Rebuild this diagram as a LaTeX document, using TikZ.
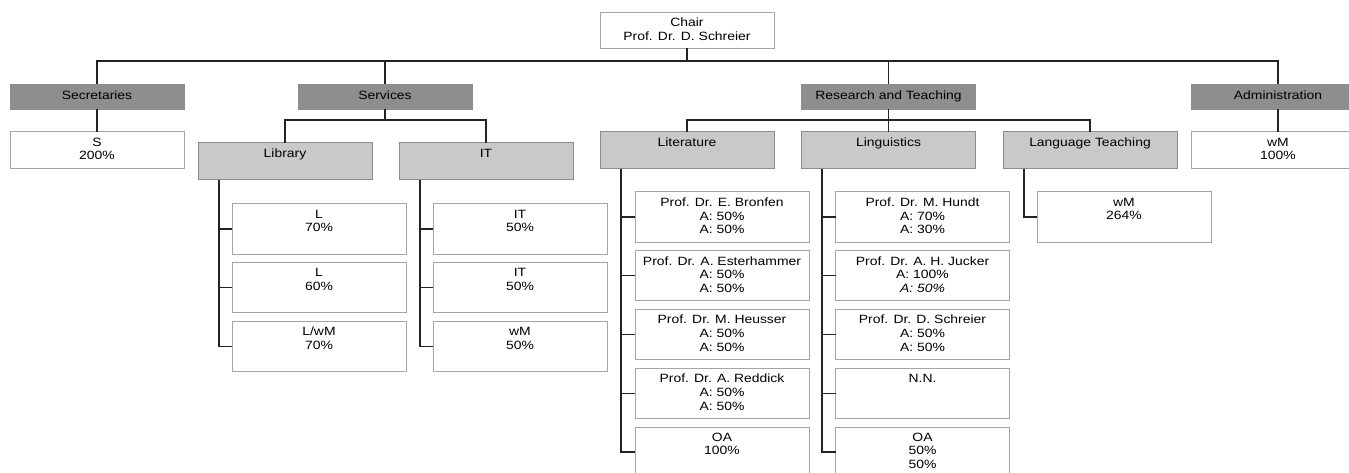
\documentclass[tikz,border=0pt]{standalone}
\usepackage{fontspec}
\setmainfont[FakeStretch=1.16]{Liberation Sans}
\definecolor{dk}{RGB}{142,142,142}
\definecolor{lg}{RGB}{201,201,201}
\definecolor{bd}{RGB}{165,165,165}
\definecolor{ln}{RGB}{35,35,35}
\begin{document}
\begin{tikzpicture}[x=1pt,y=-1pt,
  every node/.style={font=\fontsize{12}{13.7}\selectfont, text=black, inner sep=0pt, outer sep=0pt},
  dbox/.style={fill=dk, draw=dk, line width=0.8pt, minimum width=174pt, minimum height=25pt, text height=8.7pt, text depth=2.9pt},
  gbox/.style={fill=lg, draw=bd!85!black, line width=1pt, minimum width=174pt, minimum height=37pt},
  wbox/.style={fill=white, draw=bd, line width=1pt, minimum width=174pt, minimum height=50pt},
  sbox/.style={wbox, minimum height=37pt},
  txt/.style={anchor=north, align=center, yshift=-5.8pt},
  conn/.style={draw=ln, line width=1.1pt}
]
\clip (0,0) rectangle (1349,473);
\fill[white] (0,0) rectangle (1349,473);

% top
\node[sbox, minimum height=36pt] (chair) at (687,30.5) {};
\node[txt] (chairt) at (chair.north) {Chair\\Prof. Dr. D. Schreier};

% level 1
\node[dbox] (sec) at (97,96.5) {Secretaries};
\node[dbox] (serv) at (385,96.5) {Services};
\node[dbox] (rt) at (888.5,96.5) {Research and Teaching};
\node[dbox] (adm) at (1278,96.5) {Administration};

\node[sbox] (s200) at (97,150.5) {};
\node[txt] (s200t) at (s200.north) {S\\200\%};
\node[sbox] (wm100) at (1278,150.5) {};
\node[txt] (wm100t) at (wm100.north) {wM\\100\%};

% level 2
\node[gbox] (lib) at (285,161.5) {};
\node[txt] (libt) at (lib.north) {Library};
\node[gbox] (it) at (486,161.5) {};
\node[txt] (itt) at (it.north) {IT};
\node[gbox] (lit) at (687,150.5) {};
\node[txt] (litt) at (lit.north) {Literature};
\node[gbox] (ling) at (888.5,150.5) {};
\node[txt] (lingt) at (ling.north) {Linguistics};
\node[gbox] (lt) at (1090,150.5) {};
\node[txt] (ltt) at (lt.north) {Language Teaching};

% library children
\node[wbox] (lb1) at (319,229) {};
\node[txt] (lb1t) at (lb1.north) {L\\70\%};
\node[wbox] (lb2) at (319,287.75) {};
\node[txt] (lb2t) at (lb2.north) {L\\60\%};
\node[wbox] (lb3) at (319,346.5) {};
\node[txt] (lb3t) at (lb3.north) {L/wM\\70\%};

% IT children
\node[wbox] (it1) at (520,229) {};
\node[txt] (it1t) at (it1.north) {IT\\50\%};
\node[wbox] (it2) at (520,287.75) {};
\node[txt] (it2t) at (it2.north) {IT\\50\%};
\node[wbox] (it3) at (520,346.5) {};
\node[txt] (it3t) at (it3.north) {wM\\50\%};

% literature children
\node[wbox] (li1) at (722,217) {};
\node[txt] (li1t) at (li1.north) {Prof. Dr. E. Bronfen\\A: 50\%\\A: 50\%};
\node[wbox] (li2) at (722,275.75) {};
\node[txt] (li2t) at (li2.north) {Prof. Dr. A. Esterhammer\\A: 50\%\\A: 50\%};
\node[wbox] (li3) at (722,334.5) {};
\node[txt] (li3t) at (li3.north) {Prof. Dr. M. Heusser\\A: 50\%\\A: 50\%};
\node[wbox] (li4) at (722,393.25) {};
\node[txt] (li4t) at (li4.north) {Prof. Dr. A. Reddick\\A: 50\%\\A: 50\%};
\node[wbox] (li5) at (722,452) {};
\node[txt] (li5t) at (li5.north) {OA\\100\%};

% linguistics children
\node[wbox] (lg1) at (922.5,217) {};
\node[txt] (lg1t) at (lg1.north) {Prof. Dr. M. Hundt\\A: 70\%\\A: 30\%};
\node[wbox] (lg2) at (922.5,275.75) {};
\node[txt] (lg2t) at (lg2.north) {Prof. Dr. A. H. Jucker\\A: 100\%\\\textit{A: 50\%}};
\node[wbox] (lg3) at (922.5,334.5) {};
\node[txt] (lg3t) at (lg3.north) {Prof. Dr. D. Schreier\\A: 50\%\\A: 50\%};
\node[wbox] (lg4) at (922.5,393.25) {};
\node[txt] (lg4t) at (lg4.north) {N.N.};
\node[wbox] (lg5) at (922.5,452) {};
\node[txt] (lg5t) at (lg5.north) {OA\\50\%\\50\%};

% language teaching child
\node[wbox] (lt1) at (1124,217) {};
\node[txt] (lt1t) at (lt1.north) {wM\\264\%};

% connector helpers
\coordinate (b0) at (687,61);
\coordinate (b1) at (385,120);
\coordinate (b2) at (888.5,120);
\coordinate (xlib) at (219,0);
\coordinate (xit) at (420,0);
\coordinate (xlit) at (621,0);
\coordinate (xling) at (822,0);
\coordinate (xlt) at (1024,0);

\begin{scope}[conn]
\draw (chair.south) -- (b0);
\draw (sec.north) -- (sec.north |- b0) -- (adm.north |- b0) -- (adm.north);
\draw (serv.north) -- (serv.north |- b0);
\draw (rt.north) -- (rt.north |- b0);
\draw (sec.south) -- (s200.north);
\draw (adm.south) -- (wm100.north);
\draw (serv.south) -- (b1);
\draw (lib.north) -- (lib.north |- b1) -- (it.north |- b1) -- (it.north);
\draw (rt.south) -- (ling.north);
\draw (lit.north) -- (lit.north |- b2) -- (lt.north |- b2) -- (lt.north);
% library
\draw (lib.south -| xlib) |- (lb3.west);
\draw (lb1.west -| xlib) -- (lb1.west);
\draw (lb2.west -| xlib) -- (lb2.west);
% IT
\draw (it.south -| xit) |- (it3.west);
\draw (it1.west -| xit) -- (it1.west);
\draw (it2.west -| xit) -- (it2.west);
% literature
\draw (lit.south -| xlit) |- (li5.west);
\draw (li1.west -| xlit) -- (li1.west);
\draw (li2.west -| xlit) -- (li2.west);
\draw (li3.west -| xlit) -- (li3.west);
\draw (li4.west -| xlit) -- (li4.west);
% linguistics
\draw (ling.south -| xling) |- (lg5.west);
\draw (lg1.west -| xling) -- (lg1.west);
\draw (lg2.west -| xling) -- (lg2.west);
\draw (lg3.west -| xling) -- (lg3.west);
\draw (lg4.west -| xling) -- (lg4.west);
% language teaching
\draw (lt.south -| xlt) |- (lt1.west);
\end{scope}
\end{tikzpicture}
\end{document}
